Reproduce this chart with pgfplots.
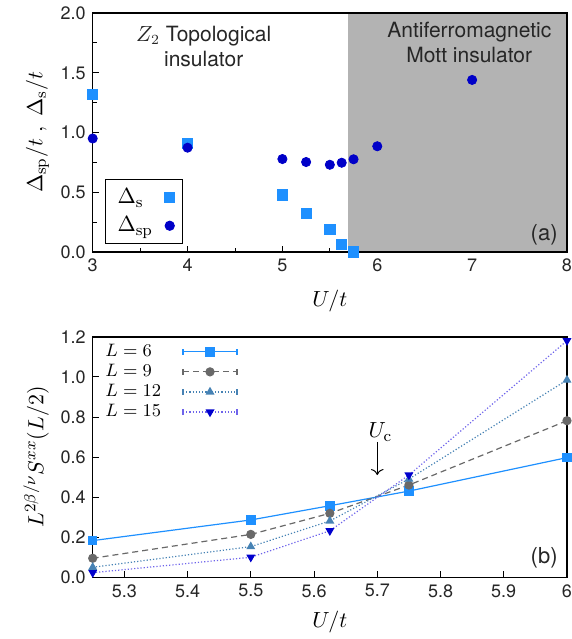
\documentclass[border=0pt]{standalone}
\usepackage{pgfplots}
\pgfplotsset{compat=1.18}
\usetikzlibrary{arrows.meta}
\usepackage[no-math]{fontspec}
\setmainfont{TeX Gyre Heros}
\definecolor{cS}{RGB}{30,144,255}
\definecolor{cSP}{RGB}{0,0,200}
\definecolor{cNine}{RGB}{105,105,105}
\definecolor{cTwelve}{RGB}{70,130,180}
\definecolor{cFifteenL}{RGB}{110,100,235}
\definecolor{cFifteenM}{RGB}{0,0,205}
\definecolor{bggray}{RGB}{179,179,179}
\begin{document}
\begin{tikzpicture}
\useasboundingbox (-46.35pt,-193.5pt) rectangle (239.65pt,126pt);
\pgfplotsset{
  every axis/.append style={
    scale only axis, clip=false,
    tick align=inside, xtick pos=bottom, ytick pos=left,
    tick style={black, line width=0.4pt},
    major tick length=3pt, minor tick length=2pt,
    axis line style={line width=0.8pt},
    tick label style={font=\fontsize{9}{10}\selectfont, color=black!85},
    label style={font=\fontsize{11}{12}\selectfont},
    /pgf/number format/assume math mode=true,
  },
}
% ---------- panel (a)
\begin{axis}[
  name=A,
  at={(0,0)}, anchor=south west,
  width=237.15pt, height=119.5pt,
  xmin=3, xmax=8, ymin=0, ymax=2,
  xtick={3,4,5,6,7,8}, minor xtick={3.5,4.5,5.5,6.5,7.5},
  ytick={0,0.5,1,1.5,2}, minor ytick={0.25,0.75,1.25,1.75},
  yticklabel style={/pgf/number format/.cd, fixed, fixed zerofill, precision=1},
  xlabel={$U/t$},
  ylabel={$\Delta_{\mathrm{sp}}/t\;,\;\Delta_{\mathrm{s}}/t$},
  xlabel style={yshift=-2pt},
  ylabel style={yshift=-1pt},
  legend style={at={(axis cs:3.13,0.065)}, anchor=south west, draw=black, line width=0.5pt,
    font=\fontsize{11}{12}\selectfont, row sep=1pt, inner xsep=4pt, inner ysep=2.5pt,
    legend cell align=left},
  legend plot pos=right,
]
\fill[bggray] (axis cs:5.69,0) rectangle (axis cs:8,2);
\addplot[only marks, mark=square*, mark size=2.6pt, color=cS] coordinates {
(3,1.32) (4,0.91) (5,0.477) (5.25,0.324) (5.5,0.19) (5.625,0.064) (5.75,0.0)
};
\addlegendentry{\makebox[21.5pt][l]{$\Delta_{\mathrm{s}}$}}
\addplot[only marks, mark=*, mark size=2.3pt, color=cSP] coordinates {
(3,0.95) (4,0.873) (5,0.778) (5.25,0.753) (5.5,0.73) (5.625,0.747) (5.75,0.776) (6,0.885) (7,1.44)
};
\addlegendentry{\makebox[21.5pt][l]{$\Delta_{\mathrm{sp}}$}}
\draw[line width=0.8pt] (rel axis cs:0,0) rectangle (rel axis cs:1,1);
\node[align=center, font=\fontsize{10.5}{12.5}\selectfont, color=black!85] at (axis cs:4.17,1.72) {$Z_2$ Topological\\insulator};
\node[align=center, font=\fontsize{10.5}{12.5}\selectfont, color=black!85] at (axis cs:6.97,1.75) {Antiferromagnetic\\Mott insulator};
\node[anchor=south east, font=\fontsize{11}{12}\selectfont, inner sep=0pt, color=black!85] at ([xshift=-4.5pt,yshift=3pt]rel axis cs:1,0) {(a)};
\end{axis}
% ---------- panel (b)
\begin{axis}[
  name=B,
  at={(0,-162.65pt)}, anchor=south west,
  width=237.15pt, height=120.3pt,
  xmin=5.25, xmax=6, ymin=0, ymax=1.2,
  xtick={5.3,5.4,5.5,5.6,5.7,5.8,5.9,6},
  xticklabels={5.3,5.4,5.5,5.6,5.7,5.8,5.9,6},
  ytick={0,0.2,0.4,0.6,0.8,1.0,1.2},
  yticklabel style={/pgf/number format/.cd, fixed, fixed zerofill, precision=1},
  xlabel={$U/t$},
  ylabel={$L^{2\beta/\nu}S^{xx}(L/2)$},
  xlabel style={yshift=0pt},
  ylabel style={yshift=-1pt},
  legend style={at={(axis cs:5.26,1.195)}, anchor=north west, draw=none, fill=none,
    font=\fontsize{9}{10}\selectfont, row sep=-1.6pt, inner sep=1pt,
    legend cell align=left},
  legend plot pos=right,
  legend image code/.code={
    \draw[mark repeat=2, mark phase=2, #1] plot coordinates {(0pt,0pt) (13.5pt,0pt) (27pt,0pt)};
    \draw[#1, solid, mark=none] (0pt,-1.5pt)--(0pt,1.5pt) (27pt,-1.5pt)--(27pt,1.5pt);
  },
]
\addplot[color=cS, line width=0.6pt, mark=square*, mark size=2.1pt, mark options={solid}] coordinates {
(5.25,0.183) (5.5,0.286) (5.625,0.357) (5.75,0.43) (6,0.597)
};
\addlegendentry{\makebox[36.5pt][l]{$L=6$}}
\addplot[color=cNine, line width=0.6pt, densely dashed, mark=*, mark size=2.0pt, mark options={solid}] coordinates {
(5.25,0.095) (5.5,0.214) (5.625,0.319) (5.75,0.46) (6,0.781)
};
\addlegendentry{\makebox[36.5pt][l]{$L=9$}}
\addplot[color=cTwelve, line width=0.6pt, densely dotted, mark=triangle*, mark size=2.0pt, mark options={solid}] coordinates {
(5.25,0.05) (5.5,0.153) (5.625,0.281) (5.75,0.49) (6,0.984)
};
\addlegendentry{\makebox[36.5pt][l]{$L=12$}}
\addplot[color=cFifteenL, line width=0.6pt, densely dotted, mark=triangle*, mark size=2.0pt, mark options={solid, rotate=180, color=cFifteenM}] coordinates {
(5.25,0.023) (5.5,0.1) (5.625,0.232) (5.75,0.51) (6,1.18)
};
\addlegendentry{\makebox[36.5pt][l]{$L=15$}}
\draw[line width=0.8pt] (rel axis cs:0,0) rectangle (rel axis cs:1,1);
\node[font=\fontsize{11}{12}\selectfont] at (axis cs:5.705,0.725) {$U_{\mathrm{c}}$};
\draw[-{To[length=3pt]}, line width=0.5pt] (axis cs:5.7,0.675) -- (axis cs:5.7,0.51);
\node[anchor=south east, font=\fontsize{11}{12}\selectfont, inner sep=0pt, color=black!85] at ([xshift=-4.5pt,yshift=4.5pt]rel axis cs:1,0) {(b)};
\end{axis}
\end{tikzpicture}
\end{document}
